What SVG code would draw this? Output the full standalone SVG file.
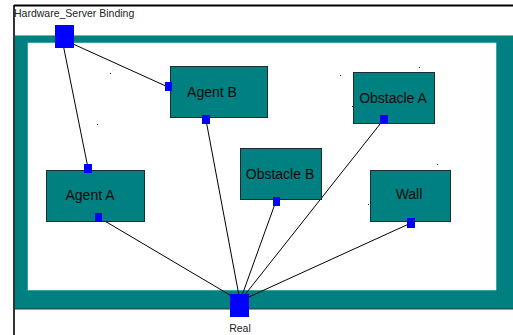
<svg xmlns="http://www.w3.org/2000/svg" width="513" height="335" viewBox="0 0 513 335">
<defs>
<style>
.node rect.box{fill:#008080;stroke:#1a2e2e;stroke-width:1}
.lbl{font-family:"Liberation Sans",Arial,sans-serif;font-size:14px;fill:#0a0a0a;text-anchor:middle}
.port{fill:#0000ff}
.conn line{stroke:#000;stroke-width:1;fill:none}
.dot{fill:#333}
</style>
<marker id="arr" viewBox="0 0 10 10" refX="10" refY="5" markerWidth="6" markerHeight="6" orient="auto" markerUnits="userSpaceOnUse">
<path d="M0,1 L10,5 L0,9" fill="none" stroke="#000" stroke-width="1.2"/>
</marker>
</defs>
<rect x="0" y="0" width="513" height="335" fill="#fff"/>
<g id="frame">
<line x1="14" y1="5.5" x2="513" y2="5.5" stroke="#000" stroke-width="2"/>
<line x1="14" y1="5" x2="14" y2="335" stroke="#000" stroke-width="1.6"/>
<rect x="15" y="36" width="498" height="273" fill="#008080"/>
<line x1="15" y1="35.5" x2="513" y2="35.5" stroke="#9aa" stroke-width="1"/>
<line x1="15" y1="309" x2="513" y2="309" stroke="#2a3a3a" stroke-width="1.2"/>
<rect x="28" y="43" width="468" height="247" fill="#fff" stroke="#cfe" stroke-width="0.6"/>
<text x="14" y="17" style="font-family:'Liberation Sans',Arial,sans-serif;font-size:10.5px;fill:#222">Hardware_Server Binding</text>
</g>
<g class="conn" id="connectors">
<line x1="62" y1="39" x2="168" y2="87"/>
<line x1="62" y1="39" x2="88" y2="168"/>
<line x1="98" y1="217" x2="240" y2="301" marker-end="url(#arr)"/>
<line x1="206" y1="120" x2="240" y2="301" marker-end="url(#arr)"/>
<line x1="276" y1="201" x2="240" y2="301" marker-end="url(#arr)"/>
<line x1="384" y1="119" x2="240" y2="301" marker-end="url(#arr)"/>
<line x1="411" y1="223" x2="240" y2="301" marker-end="url(#arr)"/>
</g>
<g id="server" class="node">
<rect class="port" x="55" y="25" width="19" height="23"/>
</g>
<g id="agentB" class="node">
<rect class="box" x="170.5" y="66.5" width="97" height="51"/>
<text class="lbl" x="212" y="97">Agent B</text>
<rect class="port" x="165" y="82" width="7" height="9"/>
<rect class="port" x="202" y="115" width="8" height="9"/>
</g>
<g id="obstacleA" class="node">
<rect class="box" x="353.5" y="72.5" width="81" height="51"/>
<text class="lbl" x="393" y="103">Obstacle A</text>
<rect class="port" x="380" y="115" width="8" height="8"/>
</g>
<g id="agentA" class="node">
<rect class="box" x="46.5" y="170.5" width="98" height="51"/>
<text class="lbl" x="90" y="200">Agent A</text>
<rect class="port" x="84" y="164" width="8" height="9"/>
<rect class="port" x="95" y="213" width="7" height="9"/>
</g>
<g id="obstacleB" class="node">
<rect class="box" x="240.5" y="148.5" width="81" height="51"/>
<text class="lbl" x="280" y="179">Obstacle B</text>
<rect class="port" x="273" y="197" width="7" height="9"/>
</g>
<g id="wall" class="node">
<rect class="box" x="370.5" y="170.5" width="80" height="51"/>
<text class="lbl" x="409" y="199">Wall</text>
<rect class="port" x="407" y="218" width="8" height="10"/>
</g>
<g id="real" class="node">
<rect class="port" x="230" y="294" width="19" height="23"/>
<text x="240" y="332" style="font-family:'Liberation Sans',Arial,sans-serif;font-size:10.5px;fill:#222;text-anchor:middle">Real</text>
</g>
<g id="marks">
<rect class="dot" x="110" y="73" width="1" height="1"/>
<rect class="dot" x="97" y="124" width="1" height="1"/>
<rect class="dot" x="340" y="75" width="1" height="1"/>
<rect class="dot" x="419" y="67" width="1" height="1"/>
<rect class="dot" x="437" y="164" width="1" height="1"/>
<rect class="dot" x="368" y="204" width="1" height="1"/>
<rect class="dot" x="352" y="106" width="1" height="1"/>
</g>
</svg>
